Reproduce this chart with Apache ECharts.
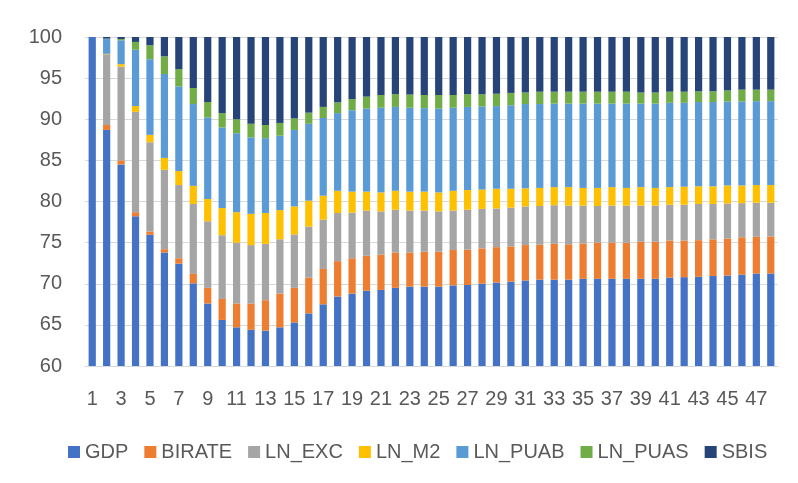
<!DOCTYPE html>
<html>
<head>
<meta charset="utf-8">
<script src="https://cdn.jsdelivr.net/npm/echarts@6/dist/echarts.min.js"></script>
<style>
  html, body { margin: 0; padding: 0; background: #fff; }
  #chart { width: 798px; height: 483px; }
</style>
</head>
<body>
<div id="chart"></div>
<script>
// periods 1..48
var periods = [];
for (var i = 1; i <= 48; i++) periods.push(String(i));

var gdp = [100, 88.7, 84.5, 78.2, 75.95, 73.8, 72.45, 70.05, 67.6, 65.6, 64.7, 64.4, 64.3, 64.7, 65.3, 66.4,
  67.5, 68.45, 68.8, 69.15, 69.25, 69.5, 69.65, 69.65, 69.65, 69.8, 69.85, 70.0, 70.15, 70.25, 70.4, 70.5,
  70.5, 70.5, 70.6, 70.6, 70.6, 70.6, 70.6, 70.6, 70.75, 70.8, 70.85, 70.95, 71.0, 71.1, 71.25, 71.25];
var birate = [0, 0.6, 0.5, 0.5, 0.4, 0.4, 0.65, 1.15, 1.9, 2.55, 2.9, 3.2, 3.7, 4.1, 4.2, 4.35,
  4.3, 4.3, 4.3, 4.25, 4.3, 4.3, 4.15, 4.25, 4.25, 4.3, 4.3, 4.3, 4.3, 4.3, 4.3, 4.25,
  4.35, 4.3, 4.3, 4.4, 4.4, 4.4, 4.5, 4.5, 4.5, 4.45, 4.45, 4.45, 4.5, 4.55, 4.45, 4.5];
var lnExc = [0, 8.6, 11.4, 12.2, 10.85, 9.65, 8.9, 8.5, 8.1, 7.75, 7.4, 7.1, 6.85, 6.6, 6.5, 6.2,
  6.0, 5.85, 5.55, 5.5, 5.25, 5.2, 5.1, 5.0, 4.9, 4.8, 4.85, 4.8, 4.7, 4.7, 4.7, 4.7,
  4.7, 4.7, 4.6, 4.45, 4.5, 4.5, 4.4, 4.4, 4.35, 4.35, 4.4, 4.3, 4.25, 4.15, 4.15, 4.1];
var lnM2 = [0, 0.05, 0.3, 0.7, 0.9, 1.45, 1.7, 2.2, 2.7, 3.3, 3.7, 3.8, 3.75, 3.55, 3.4, 3.15,
  2.9, 2.7, 2.55, 2.3, 2.3, 2.3, 2.3, 2.3, 2.3, 2.4, 2.4, 2.35, 2.4, 2.3, 2.2, 2.2,
  2.2, 2.25, 2.15, 2.2, 2.25, 2.15, 2.25, 2.15, 2.15, 2.2, 2.15, 2.15, 2.2, 2.15, 2.15, 2.15];
var lnPuab = [0, 1.8, 2.9, 6.85, 9.2, 10.2, 10.3, 9.95, 9.9, 9.8, 9.6, 9.3, 9.1, 9.05, 9.3, 9.35,
  9.45, 9.45, 9.9, 10.1, 10.3, 10.2, 10.2, 10.15, 10.2, 10.1, 10.1, 10.1, 10.05, 10.15, 10.25, 10.2,
  10.15, 10.15, 10.25, 10.25, 10.15, 10.25, 10.15, 10.25, 10.25, 10.2, 10.25, 10.25, 10.2, 10.2, 10.2, 10.2];
var lnPuas = [0, 0.05, 0.15, 0.95, 1.7, 2.15, 2.1, 1.95, 1.9, 1.75, 1.7, 1.65, 1.6, 1.55, 1.4, 1.35,
  1.35, 1.3, 1.35, 1.45, 1.55, 1.55, 1.6, 1.6, 1.65, 1.55, 1.55, 1.5, 1.5, 1.5, 1.4, 1.5,
  1.45, 1.45, 1.45, 1.45, 1.45, 1.45, 1.35, 1.35, 1.35, 1.35, 1.3, 1.3, 1.35, 1.45, 1.4, 1.4];
var sbis = [0, 0.3, 0.25, 0.6, 1.0, 2.35, 3.9, 6.2, 7.9, 9.25, 10.0, 10.55, 10.7, 10.45, 9.9, 9.2,
  8.5, 7.95, 7.55, 7.25, 7.05, 6.95, 7.0, 7.05, 7.05, 7.05, 6.95, 6.95, 6.9, 6.8, 6.75, 6.65,
  6.65, 6.65, 6.65, 6.65, 6.65, 6.65, 6.75, 6.75, 6.65, 6.65, 6.6, 6.6, 6.5, 6.4, 6.4, 6.4];

var names = ['GDP', 'BIRATE', 'LN_EXC', 'LN_M2', 'LN_PUAB', 'LN_PUAS', 'SBIS'];
var colors = ['#4472C4', '#ED7D31', '#A5A5A5', '#FFC000', '#5B9BD5', '#70AD47', '#264478'];
var values = [gdp, birate, lnExc, lnM2, lnPuab, lnPuas, sbis];

var font = 'Liberation Sans';

var series = names.map(function (n, k) {
  return {
    name: n,
    type: 'bar',
    stack: 'total',
    barWidth: '50%',
    data: values[k],
    itemStyle: { color: colors[k] }
  };
});

var chart = echarts.init(document.getElementById('chart'));
chart.setOption({
  animation: false,
  backgroundColor: '#fff',
  color: colors,
  textStyle: { fontFamily: font },
  grid: { left: 85, right: 20, top: 37, bottom: 117 },
  legend: {
    data: names,
    top: 437,
    left: 63,
    icon: 'rect',
    itemWidth: 12,
    itemHeight: 12,
    itemGap: 16,
    textStyle: { fontSize: 20, color: '#595959', fontFamily: font }
  },
  xAxis: {
    type: 'category',
    data: periods,
    axisLine: { lineStyle: { color: '#d9d9d9', width: 1 } },
    axisTick: { show: false },
    axisLabel: { interval: 1, fontSize: 20, color: '#595959', margin: 23 }
  },
  yAxis: {
    type: 'value',
    min: 60,
    max: 100,
    interval: 5,
    axisLine: { show: false },
    axisTick: { show: false },
    axisLabel: { fontSize: 20, color: '#595959', margin: 23 },
    splitLine: { lineStyle: { color: '#d9d9d9', width: 1 } }
  },
  series: series
});
</script>
</body>
</html>
